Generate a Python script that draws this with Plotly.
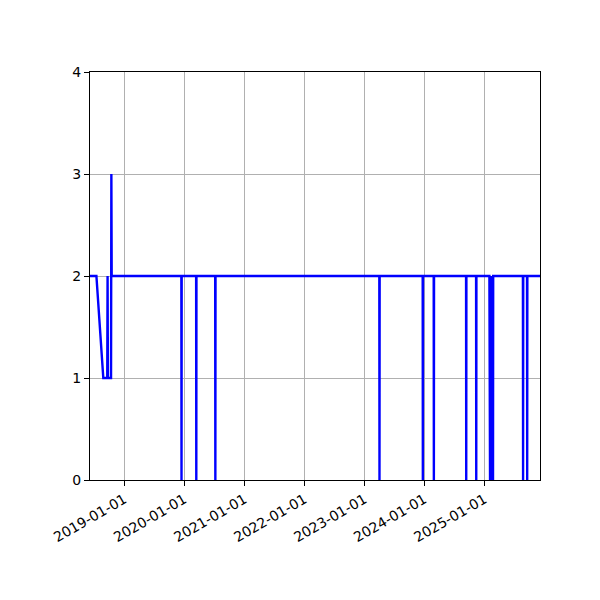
import plotly.graph_objects as go

# points (daily-ish counts, mostly 2 with short drops)
dates = [
    "2018-06-06", "2018-07-15", "2018-08-26", "2018-09-19", "2018-09-21",
    "2018-09-23", "2018-10-12", "2018-10-14", "2018-10-16",
    "2019-12-14", "2019-12-15", "2019-12-16",
    "2020-03-13", "2020-03-14", "2020-03-15",
    "2020-07-07", "2020-07-08", "2020-07-09",
    "2023-04-02", "2023-04-03", "2023-04-04",
    "2023-12-22", "2023-12-23", "2023-12-24",
    "2024-02-27", "2024-02-28", "2024-02-29",
    "2024-09-11", "2024-09-12", "2024-09-13",
    "2024-11-11", "2024-11-12", "2024-11-13",
    "2025-01-31", "2025-02-01", "2025-02-03",
    "2025-02-04", "2025-02-06", "2025-02-07",
    "2025-02-09", "2025-02-10", "2025-02-12",
    "2025-02-13", "2025-02-15", "2025-02-16",
    "2025-02-18", "2025-02-19", "2025-02-21",
    "2025-02-22", "2025-02-23",
    "2025-08-23", "2025-08-24", "2025-08-25",
    "2025-09-17", "2025-09-18", "2025-09-19",
    "2025-12-05",
]
values = [
    2, 2, 1, 1, 2,
    1, 1, 3, 2,
    2, 0, 2,
    2, 0, 2,
    2, 0, 2,
    2, 0, 2,
    2, 0, 2,
    2, 0, 2,
    2, 0, 2,
    2, 0, 2,
    2, 0, 2,
    0, 2, 0,
    2, 0, 2,
    0, 2, 0,
    2, 0, 2,
    0, 2,
    2, 0, 2,
    2, 0, 2,
    2,
]
y_ticks = [0, 1, 2, 3, 4]

fig = go.Figure(go.Scatter(x=dates, y=values, mode='lines',
                           line=dict(color='#0000ff', width=2.4)))

axis_style = dict(showline=True, linecolor='black', linewidth=1, mirror=True,
                  ticks='outside', ticklen=5, tickcolor='black',
                  showgrid=True, gridcolor='#b0b0b0', gridwidth=1,
                  zeroline=False, tickfont=dict(family='DejaVu Sans', size=14, color='black'))

# page body adds 8px, so margins are shifted to keep the axes box where matplotlib had it
fig.update_layout(
    width=600, height=600,
    margin=dict(l=82, r=68, t=64, b=128),
    paper_bgcolor='white', plot_bgcolor='white',
    showlegend=False,
    xaxis=dict(range=[dates[0], dates[-1]], tick0='2019-01-01', dtick='M12',
               tickformat='%Y-%m-%d', tickangle=-30, **axis_style),
    yaxis=dict(range=[0, 4], tickvals=y_ticks, **axis_style),
)

fig.write_html("out.html")
